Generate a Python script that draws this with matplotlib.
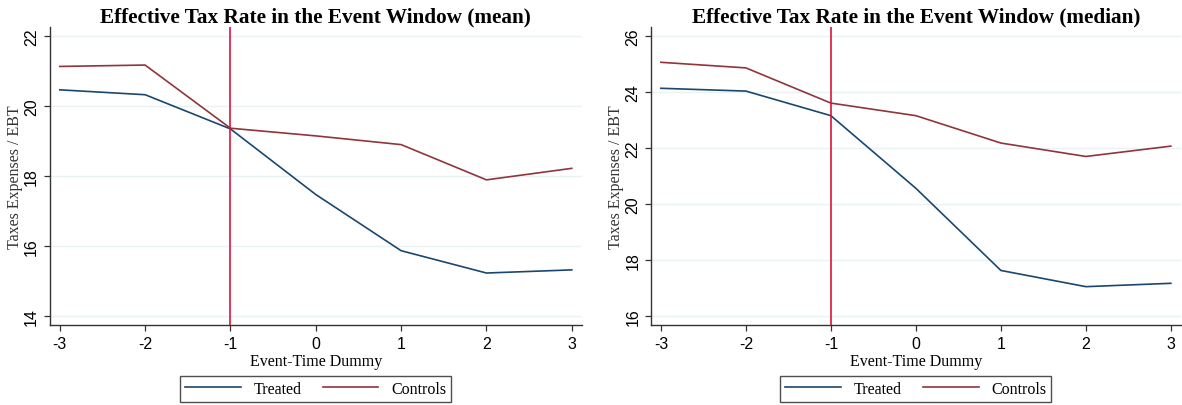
import matplotlib.pyplot as plt

event_time = [-3, -2, -1, 0, 1, 2, 3]

mean_treated = [20.47, 20.33, 19.35, 17.47, 15.86, 15.22, 15.31]
mean_controls = [21.14, 21.18, 19.37, 19.15, 18.90, 17.89, 18.22]

median_treated = [24.14, 24.04, 23.16, 20.56, 17.62, 17.04, 17.16]
median_controls = [25.07, 24.87, 23.61, 23.16, 22.18, 21.70, 22.07]

mean_yticks = [14, 16, 18, 20, 22]
median_yticks = [16, 18, 20, 22, 24, 26]

navy = "#1a476f"
maroon = "#90353b"
vline_col = "#dc143c"
grid_col = "#eaf2f3"
serif = "Liberation Serif"
sans = "Liberation Sans"

fig = plt.figure(figsize=(11.82, 4.06), dpi=100)
ax1 = fig.add_axes([0.0419, 0.197, 0.4505, 0.734])
ax2 = fig.add_axes([0.5505, 0.197, 0.4487, 0.734])

panels = [
    (ax1, mean_treated, mean_controls, mean_yticks, (13.73, 22.27), "mean"),
    (ax2, median_treated, median_controls, median_yticks, (15.667, 26.333), "median"),
]

for ax, tr, co, yt, ylim, stat in panels:
    for y in yt:
        ax.axhline(y, color=grid_col, lw=1.0, zorder=0)
    ax.plot(event_time, tr, color=navy, lw=1.2, label="Treated")
    ax.plot(event_time, co, color=maroon, lw=1.2, label="Controls")
    ax.axvline(-1, color=vline_col, lw=1.2)
    ax.set_xlim(-3.12, 3.12)
    ax.set_ylim(*ylim)
    ax.set_xticks(event_time)
    ax.set_xticklabels([str(v) for v in event_time], fontfamily=sans, fontsize=11.5)
    ax.set_yticks(yt)
    ax.set_yticklabels([str(v) for v in yt], fontfamily=sans, fontsize=11.5,
                       rotation=90, va="center")
    ax.tick_params(axis="both", direction="out", length=4, width=0.9, color="#333333")
    ax.tick_params(axis="x", pad=4)
    for s in ["top", "right"]:
        ax.spines[s].set_visible(False)
    for s in ["left", "bottom"]:
        ax.spines[s].set_color("#333333")
        ax.spines[s].set_linewidth(1.0)
    ax.set_title("Effective Tax Rate in the Event Window (%s)" % stat,
                 fontfamily=serif, fontweight="bold", fontsize=15.3, pad=4)
    ax.set_xlabel("Event-Time Dummy", fontfamily=serif, fontsize=11.5, labelpad=1)
    ax.set_ylabel("Taxes Expenses / EBT", fontfamily=serif, fontsize=11.5,
                  color="#333333", labelpad=1)
    leg = ax.legend(loc="upper center", bbox_to_anchor=(0.5, -0.145), ncol=2,
                    frameon=True, fancybox=False, edgecolor="#222222",
                    prop={"family": serif, "size": 11.5}, handlelength=3.5,
                    columnspacing=1.3, borderpad=0.3, handletextpad=0.8)
    leg.get_frame().set_linewidth(1.0)

fig.savefig("out.png", dpi=100)
